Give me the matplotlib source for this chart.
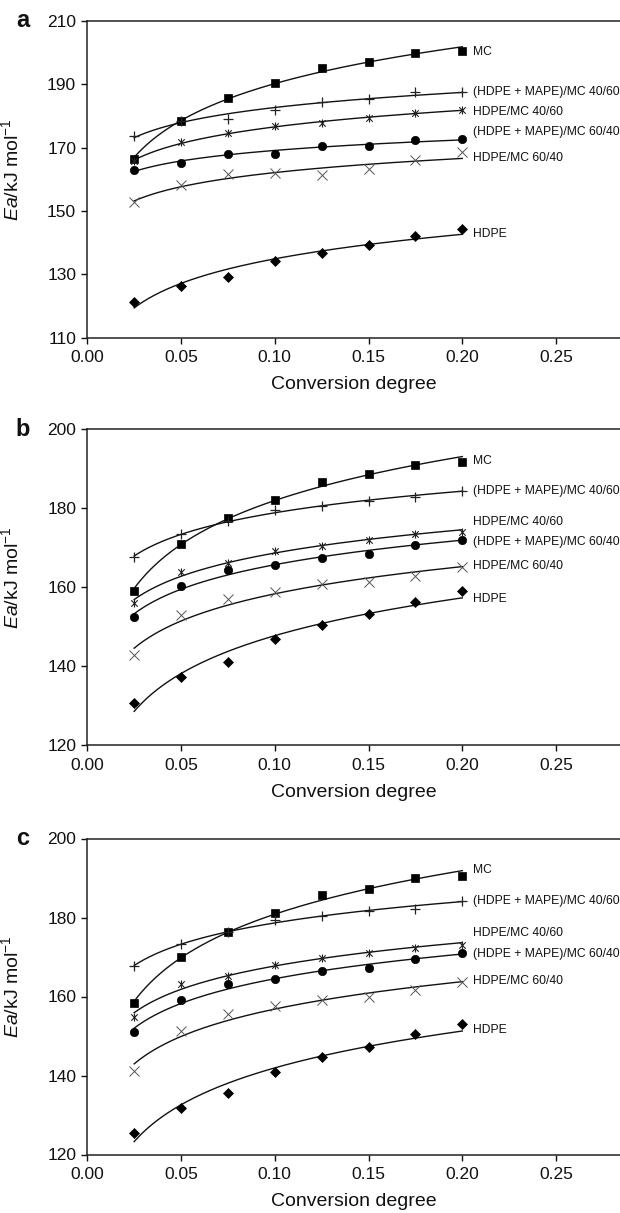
import numpy as np
import matplotlib
matplotlib.use("Agg")
import matplotlib.pyplot as plt
from matplotlib.path import Path

plt.rcParams['font.family'] = ['Liberation Sans', 'DejaVu Sans']
plt.rcParams['mathtext.fontset'] = 'custom'
plt.rcParams['mathtext.rm'] = 'Liberation Sans'
plt.rcParams['mathtext.it'] = 'Liberation Sans:italic'

# ---------------- data ----------------
conversion = [0.025, 0.05, 0.075, 0.1, 0.125, 0.15, 0.175, 0.2]
series_names = ["MC", "(HDPE + MAPE)/MC 40/60", "HDPE/MC 40/60",
                "(HDPE + MAPE)/MC 60/40", "HDPE/MC 60/40", "HDPE"]

# panel a
mc_a = [166.4, 178.5, 185.7, 190.4, 195.1, 196.9, 199.7, 200.4]
hm4060_a = [173.7, 178.3, 179.0, 181.9, 184.5, 185.2, 187.5, 187.5]
h4060_a = [165.8, 171.6, 174.5, 176.9, 177.7, 179.2, 180.8, 181.9]
hm6040_a = [163.0, 165.1, 168.0, 168.0, 170.6, 170.6, 172.4, 172.6]
h6040_a = [152.9, 158.2, 161.6, 161.9, 161.2, 163.2, 166.1, 168.5]
hdpe_a = [121.4, 126.4, 129.2, 134.1, 136.8, 139.2, 142.2, 144.3]

# panel b
mc_b = [159.1, 170.9, 177.5, 182.1, 186.7, 188.5, 190.9, 191.7]
hm4060_b = [167.5, 173.5, 176.8, 179.4, 180.4, 181.8, 182.7, 184.4]
h4060_b = [156.0, 163.8, 166.1, 169.0, 170.5, 172.0, 173.4, 173.9]
hm6040_b = [152.3, 160.2, 164.4, 165.6, 167.3, 168.4, 170.6, 172.0]
h6040_b = [142.8, 152.8, 157.0, 158.8, 160.8, 161.2, 162.9, 165.1]
hdpe_b = [130.6, 137.3, 141.1, 146.9, 150.3, 153.2, 156.2, 159.1]

# panel c
mc_c = [158.3, 169.9, 176.4, 181.1, 185.7, 187.2, 189.9, 190.5]
hm4060_c = [167.6, 173.3, 176.4, 179.4, 180.5, 181.6, 182.2, 184.3]
h4060_c = [154.9, 163.1, 165.3, 168.1, 169.8, 171.1, 172.4, 173.0]
hm6040_c = [151.1, 159.0, 163.1, 164.4, 166.4, 167.3, 169.4, 170.9]
h6040_c = [141.2, 151.3, 155.5, 157.6, 159.1, 159.8, 161.6, 163.6]
hdpe_c = [125.4, 131.7, 135.5, 141.0, 144.6, 147.3, 150.4, 153.0]

label_y_a = [200.2, 187.6, 181.3, 175.0, 166.6, 142.6]
label_y_b = [191.9, 184.4, 176.5, 171.5, 165.4, 157.0]
label_y_c = [192.0, 184.3, 176.0, 170.7, 164.0, 151.5]

xticks = [0.00, 0.05, 0.10, 0.15, 0.20, 0.25]
yticks_a = [110, 130, 150, 170, 190, 210]
yticks_b = [120, 140, 160, 180, 200]
yticks_c = [120, 140, 160, 180, 200]

panels = [
    ("a", [mc_a, hm4060_a, h4060_a, hm6040_a, h6040_a, hdpe_a], label_y_a, yticks_a),
    ("b", [mc_b, hm4060_b, h4060_b, hm6040_b, h6040_b, hdpe_b], label_y_b, yticks_b),
    ("c", [mc_c, hm4060_c, h4060_c, hm6040_c, h6040_c, hdpe_c], label_y_c, yticks_c),
]

# ---------------- styles ----------------
star = Path([(-1, -1), (1, 1), (-1, 1), (1, -1), (0, -1.25), (0, 1.25)],
            [Path.MOVETO, Path.LINETO, Path.MOVETO, Path.LINETO, Path.MOVETO, Path.LINETO])
styles = [
    dict(marker='s', ms=5.6, mfc='black', mec='black', mew=0.5),
    dict(marker='+', ms=7.0, mfc='none', mec='#222222', mew=0.9),
    dict(marker=star, ms=5.8, mfc='none', mec='#222222', mew=0.8),
    dict(marker='o', ms=6.0, mfc='black', mec='black', mew=0.5),
    dict(marker='x', ms=6.5, mfc='none', mec='#555555', mew=0.7),
    dict(marker='D', ms=5.5, mfc='black', mec='black', mew=0.5),
]

W, H = 620, 1213
fig = plt.figure(figsize=(W / 100, H / 100), dpi=100)

left_px = 87.3
tops = [20.7, 429.0, 838.5]
bottoms = [337.7, 745.0, 1154.5]
xmax = 0.2841

xs = np.array(conversion)
xfit = np.linspace(xs.min(), xs.max(), 200)

for (letter, series, label_ys, yticks), top, bot in zip(panels, tops, bottoms):
    ax = fig.add_axes([left_px / W, 1 - bot / H, 1 - left_px / W, (bot - top) / H])
    ax.set_xlim(0, xmax)
    ax.set_ylim(yticks[0], yticks[-1])
    for vals, st in zip(series, styles):
        vals = np.array(vals)
        a, b = np.polyfit(np.log(xs), vals, 1)
        ax.plot(xfit, a * np.log(xfit) + b, color='#111111', lw=1.0, zorder=2)
        ax.plot(xs, vals, linestyle='none', zorder=3, clip_on=False, **st)
    for name, ly in zip(series_names, label_ys):
        ax.text(0.2056, ly, name, fontsize=8.7, ha='left', va='center',
                color='#111111', clip_on=False)
    ax.set_xticks(xticks)
    ax.set_xticklabels([f"{t:.2f}" for t in xticks])
    ax.set_yticks(yticks)
    ax.tick_params(direction='out', length=4, width=1.0, labelsize=12.5,
                   pad=4, colors='#111111')
    ax.tick_params(axis='x', pad=5)
    ax.spines['right'].set_visible(False)
    for s in ('left', 'bottom', 'top'):
        ax.spines[s].set_linewidth(1.1)
        ax.spines[s].set_color('#222222')
    ax.set_xlabel("Conversion degree", fontsize=14, labelpad=8, color='#111111')
    ax.set_ylabel(r"$Ea$/kJ mol$^{-1}$", fontsize=14, color='#111111')
    ax.yaxis.set_label_coords(-0.1226, 0.53)
    fig.text(22.5 / W, 1 - top / H, letter, fontsize=17, fontweight='bold',
             ha='center', va='center', color='#111111')

fig.savefig("out.png", dpi=100)
